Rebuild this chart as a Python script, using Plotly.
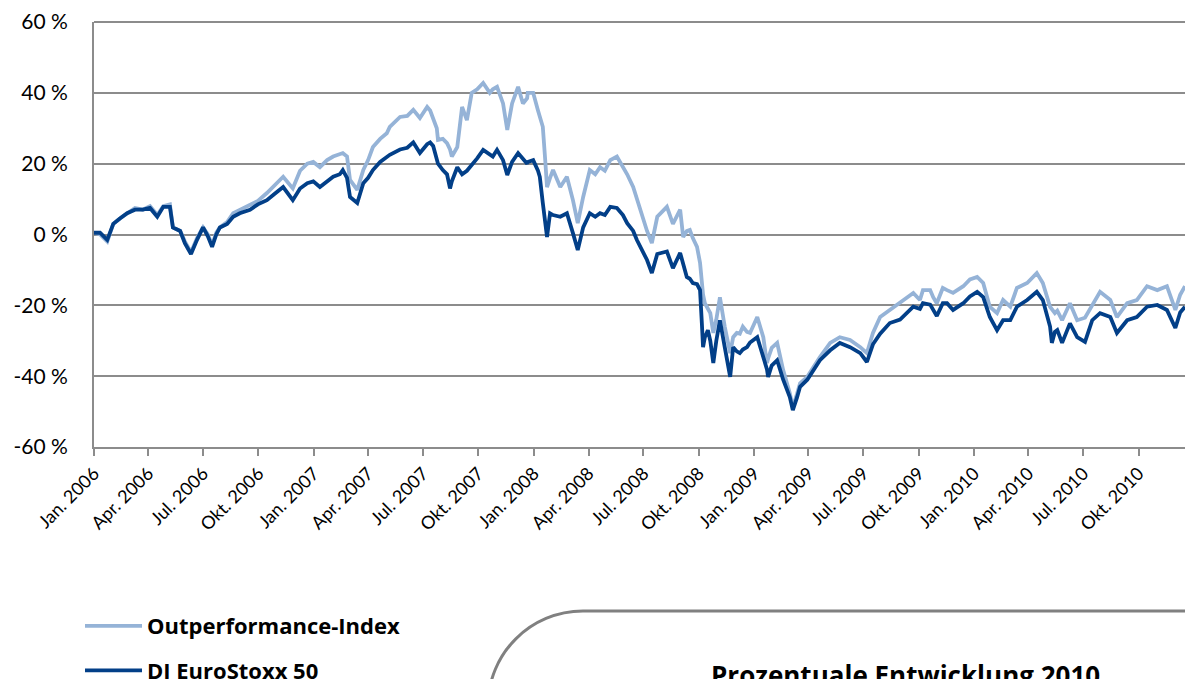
import pandas as pd
import plotly.graph_objects as go

# ---- data ----
start_date = "2006-01-01"
# days after 1 Jan 2006 of each sampled observation
day_offsets = [
    0, 10, 22, 32, 43, 55, 68, 81, 93, 105, 115, 126, 131, 143, 151, 161, 171, 181, 189, 196,
    203, 209, 221, 231, 242, 259, 272, 287, 300, 314, 330, 342, 354, 364, 375, 387, 397, 408, 413, 420,
    425, 437, 447, 455, 463, 475, 486, 491, 508, 520, 530, 541, 553, 558, 563, 569, 571, 579, 586, 591,
    594, 603, 611, 619, 627, 636, 646, 657, 662, 669, 679, 686, 694, 704, 712, 719, 720, 729, 737, 740,
    745, 749, 752, 757, 762, 774, 785, 795, 803, 812, 823, 832, 840, 848, 857, 868, 878, 885, 895, 901,
    911, 918, 926, 935, 951, 961, 973, 978, 984, 989, 994, 1001, 1006, 1009, 1011, 1014, 1019, 1023, 1028, 1033,
    1039, 1047, 1056, 1061, 1067, 1072, 1077, 1084, 1089, 1101, 1111, 1117, 1119, 1125, 1134, 1144, 1155, 1160, 1167, 1172,
    1184, 1194, 1205, 1222, 1238, 1255, 1272, 1283, 1293, 1305, 1321, 1338, 1360, 1371, 1376, 1388, 1393, 1399, 1409, 1416,
    1426, 1443, 1454, 1466, 1476, 1487, 1499, 1509, 1521, 1532, 1549, 1565, 1575, 1587, 1590, 1595, 1599, 1607, 1620, 1632,
    1645, 1657, 1670, 1687, 1698, 1715, 1731, 1748, 1765, 1781, 1795, 1803, 1811,
]

outperformance_index = [
    0.5, 0, -2, 3, 4.5, 6, 7.5, 7, 8, 5.5, 8, 8.5, 2, 1, -2, -5, -1, 2, 0, -3,
    0.5, 2, 3.5, 6, 7, 8.5, 9.5, 11.7, 14, 16.3, 13, 18, 20, 20.5, 19, 21, 22, 22.5, 23, 22,
    15.4, 12.6, 18.2, 21, 24.7, 27, 28.6, 30.4, 33.2, 33.5, 35.2, 32.9, 36, 35, 33, 30, 26.7, 27, 25.8, 24,
    22, 24.7, 36, 32.3, 40, 41, 42.8, 40, 41, 41.7, 37, 29.5, 37, 41.7, 37, 38.5, 40, 40, 35, 33,
    30.4, 21, 13.4, 16, 18.2, 13.4, 16.3, 9.7, 3.2, 10.6, 18.2, 17, 19, 18, 21, 22, 19, 17, 13.4, 10,
    5, 1, -2.4, 5, 7.8, 3, 7, -0.7, 1, 1.3, -1, -3.5, -8, -15.7, -17, -19.4, -21, -22.2, -27.8, -24,
    -17.7, -26, -33.5, -29, -27.8, -28, -26, -27.5, -27.8, -23.3, -29, -36.3, -35, -32, -30.6, -38.3, -44.8, -48.7, -45, -42,
    -40.2, -37.4, -34.6, -30.6, -29, -29.8, -31.8, -33.5, -27.8, -23.3, -21.3, -19.4, -16.5, -18.5, -15.7, -15.7, -17.7, -19.4, -15.1, -15.7,
    -16.5, -14.6, -12.7, -12, -13.7, -20.4, -22.2, -18.5, -20.4, -15.1, -13.7, -10.9, -13.7, -20.4, -21, -22.2, -21.5, -24.2, -19.4, -24.2,
    -23.5, -20, -16.2, -18.5, -23.3, -19.4, -18.5, -14.6, -15.7, -14.6, -21.3, -17, -14.6,
]

dj_eurostoxx_50 = [
    0.5, 0.5, -1.5, 3, 4.5, 6, 7, 7, 7.5, 5, 7.8, 7.8, 2, 1, -2.5, -5.5, -1.5, 2, -0.5, -3.5,
    0, 2, 3, 5, 6, 7, 8.5, 9.7, 11.5, 13.4, 9.7, 13, 14.5, 15, 13.4, 15, 16.3, 17, 18.2, 16,
    10.6, 8.9, 14.5, 16, 18.2, 20.5, 22, 22.5, 24, 24.5, 26, 23, 25.5, 26, 25, 21, 20, 18.2, 17, 13,
    15, 19, 17, 18, 19.5, 21.5, 23.9, 22.5, 22, 23.9, 21, 16.8, 20.5, 23, 21.5, 20, 20.5, 21, 18, 16.3,
    8.9, 2, -0.7, 6, 5.5, 5, 6, 0.4, -4.4, 2, 6, 5, 6, 5.5, 7.8, 7.5, 5.5, 3.2, 1, -1.5,
    -5, -7.2, -10.9, -5.5, -4.8, -9.5, -5.2, -8, -12, -12.5, -13.7, -14, -15.7, -25, -31.8, -29, -27, -30, -36.3, -30,
    -24.2, -31.8, -40.2, -31.8, -33, -33.5, -32.5, -31.8, -30.5, -29, -34.6, -38, -40.2, -37, -35.5, -41, -45.9, -49.6, -46, -43,
    -41, -38.3, -35.5, -32.7, -30.6, -31.8, -33.5, -36, -31, -28, -25, -24, -20.4, -21, -19.4, -19.8, -21.3, -23, -19.4, -19.4,
    -21.3, -19.4, -17.5, -16.2, -17.7, -23.3, -27, -24.2, -24.2, -20.4, -18.5, -16.2, -18.5, -26, -30.6, -27.5, -27, -30.6, -25.1, -29,
    -30.3, -24.2, -22.2, -23.3, -27.8, -24.2, -23.3, -20.4, -19.9, -21.3, -26.4, -22, -20.4,
]

tick_dates = [
    "2006-01-01", "2006-04-01", "2006-07-01", "2006-10-01",
    "2007-01-01", "2007-04-01", "2007-07-01", "2007-10-01",
    "2008-01-01", "2008-04-01", "2008-07-01", "2008-10-01",
    "2009-01-01", "2009-04-01", "2009-07-01", "2009-10-01",
    "2010-01-01", "2010-04-01", "2010-07-01", "2010-10-01",
]
tick_labels = [
    "Jan. 2006", "Apr. 2006", "Jul. 2006", "Okt. 2006",
    "Jan. 2007", "Apr. 2007", "Jul. 2007", "Okt. 2007",
    "Jan. 2008", "Apr. 2008", "Jul. 2008", "Okt. 2008",
    "Jan. 2009", "Apr. 2009", "Jul. 2009", "Okt. 2009",
    "Jan. 2010", "Apr. 2010", "Jul. 2010", "Okt. 2010",
]
y_ticks = [-60, -40, -20, 0, 20, 40, 60]
series_names = ["Outperformance-Index", "DJ EuroStoxx 50"]
box_title = "Prozentuale Entwicklung 2010"

dates = pd.Timestamp(start_date) + pd.to_timedelta(day_offsets, unit="D")

LIGHT = "#95B3D7"
DARK = "#023F88"
GRID = "#8C8C8C"
FONT = "Lato"
BOLD_FONT = "Open Sans"

# the page body margin is removed (see post_script), so the figure fills the window
W, H = 1185, 679
ML, MR, MT, MB = 94, 0, 22, 232
PW, PH = W - ML - MR, H - MT - MB


def px_to_paper(px, py):
    """window pixel -> paper coordinates"""
    return (px - ML) / PW, (H - MB - py) / PH


fig = go.Figure()
fig.add_trace(go.Scatter(
    x=dates, y=outperformance_index, mode="lines", name=series_names[0],
    line=dict(color=LIGHT, width=3.8), legendgroup="a",
))
fig.add_trace(go.Scatter(
    x=dates, y=dj_eurostoxx_50, mode="lines", name=series_names[1],
    line=dict(color=DARK, width=3.8), legendgroup="b",
))

# top grid line at the upper edge of the plot area (plotly skips the boundary grid line)
fig.add_shape(type="line", xref="paper", yref="paper", x0=0, x1=1, y0=1, y1=1,
              line=dict(color=GRID, width=2), layer="below")

# rounded-corner box in the lower right (decoration)
r = 95
k = 0.5523 * r
cx0, cy0 = 583, 611
pts = {
    "start": px_to_paper(W + 10, cy0),
    "h": px_to_paper(cx0, cy0),
    "c1": px_to_paper(cx0 - k, cy0),
    "c2": px_to_paper(cx0 - r, cy0 + r - k),
    "end": px_to_paper(cx0 - r, cy0 + r),
    "down": px_to_paper(cx0 - r, H + 30),
}
path = (
    f"M {pts['start'][0]},{pts['start'][1]} L {pts['h'][0]},{pts['h'][1]} "
    f"C {pts['c1'][0]},{pts['c1'][1]} {pts['c2'][0]},{pts['c2'][1]} {pts['end'][0]},{pts['end'][1]} "
    f"L {pts['down'][0]},{pts['down'][1]}"
)
fig.add_shape(type="path", xref="paper", yref="paper", path=path,
              line=dict(color="#808080", width=3))

tx, ty = px_to_paper(709, 675)
fig.add_annotation(xref="paper", yref="paper", x=tx, y=ty, xanchor="left", yanchor="middle",
                   text=f"<b>{box_title}</b>", showarrow=False,
                   font=dict(family=BOLD_FONT, size=26, color="#000000"))

lx, _ = px_to_paper(80, 0)
legend_top_px = 605
fig.update_layout(
    width=W, height=H,
    margin=dict(l=ML, r=MR, t=MT, b=MB, pad=0, autoexpand=False),
    paper_bgcolor="white", plot_bgcolor="white",
    font=dict(family=FONT, size=20, color="#000000"),
    showlegend=True,
    legend=dict(
        xref="paper", yref="container",
        x=lx, y=(H - legend_top_px) / H, xanchor="left", yanchor="top",
        orientation="v", tracegroupgap=13,
        font=dict(family=BOLD_FONT, size=22, color="#000000", weight="bold"),
        bgcolor="rgba(0,0,0,0)", itemwidth=57,
    ),
    xaxis=dict(
        type="date", automargin=False,
        range=[dates[0], dates[-1]],
        tickvals=tick_dates, ticktext=tick_labels, tickangle=-45,
        ticks="outside", ticklen=7, tickwidth=2, tickcolor=GRID,
        showline=True, linecolor=GRID, linewidth=2,
        showgrid=False, zeroline=False, ticklabeloverflow="allow",
        tickfont=dict(family=FONT, size=18, color="#000000"),
    ),
    yaxis=dict(
        range=[-60, 60], tickvals=y_ticks, automargin=False,
        ticktext=[f"{v} %" for v in y_ticks],
        showgrid=True, gridcolor=GRID, gridwidth=2,
        showline=True, linecolor=GRID, linewidth=2,
        zeroline=False, ticks="", ticklabelstandoff=20,
        ticklabeloverflow="allow",
        tickfont=dict(family=FONT, size=21, color="#000000"),
    ),
)

fig.write_html(
    "out.html",
    config={"displayModeBar": False},
    post_script="document.body.style.margin='0';document.body.style.overflow='hidden';",
)
